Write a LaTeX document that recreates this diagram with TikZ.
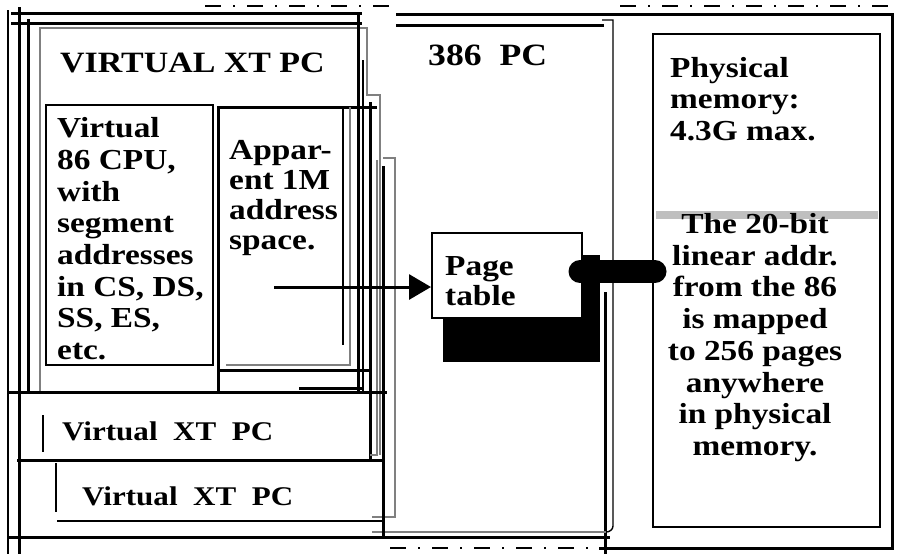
\documentclass[tikz,border=0pt]{standalone}
\usepackage{fontspec}
\setmainfont{Liberation Serif}[FakeStretch=1.15]
\usetikzlibrary{arrows.meta}
\begin{document}
\begin{tikzpicture}[x=1pt,y=-1pt,
  thk/.style={line width=3pt,line cap=rect},
  mid/.style={line width=2.2pt},
  thn/.style={line width=1.4pt},
  gry/.style={line width=2pt,draw=black!50},
  txt/.style={font=\bfseries\fontsize{29}{32}\selectfont,anchor=base west,inner sep=0pt},
  ctxt/.style={font=\bfseries\fontsize{29}{32}\selectfont,anchor=base,inner sep=0pt},
  boxn/.style={draw,inner sep=0pt},
  dashtop/.style={line width=2pt,dash pattern=on 16pt off 12pt on 2pt off 12pt}]
\useasboundingbox (0,0) rectangle (897,554);
\fill[white] (0,0) rectangle (897,554);

% ---- top and bottom dashed rules
\draw[dashtop] (205,6) -- (400,6);
\draw[dashtop] (620,6) -- (897,6);
\draw[dashtop] (390,548) -- (600,548);
\draw[thk] (600,548) -- (892,548);

% ---- outer frame lines
\draw[thk] (12,13) -- (360,13);
\draw[thk] (397,14) -- (892,14) -- (892,548);
\draw[thk] (12,23) -- (360,23);
\draw[thk] (397,25) -- (602,25);
\draw[thn] (8,10) -- (8,554);
\draw[thk] (19,8) -- (19,554);
\draw[thk] (28,20) -- (28,392);
\draw[thk] (8,537) -- (608,537);
\draw[thk] (605,293) -- (605,554);
\draw[thn] (602,20) -- (613,20) -- (613,526) to[out=-90,in=0] (606,532);
\draw[gry] (372,532) -- (606,532);

% ---- stacked virtual PC cards (right steps)
\draw[gry] (40,392) -- (40,28) -- (367,28) -- (367,95) -- (380,95) -- (380,455);
\draw[thk] (358,13) -- (358,390);
\draw[thn] (363,60) -- (363,392);
\draw[thk] (370,103) -- (370,460);
\draw[gry] (377,160) -- (377,455) -- (370,455);
\draw[gry] (383,158) -- (395,158) -- (395,517) -- (372,517);
\draw[thk] (383,167) -- (383,537);

% ---- horizontal strips
\draw[thk] (8,392) -- (385,392);
\draw[thk] (18,460) -- (383,460);
\draw[mid] (57,521) -- (383,521);
\draw[thk] (218,370) -- (368,370);
\draw[thk] (300,388) -- (360,388);
\draw[mid] (43,415) -- (43,452);
\draw[mid] (56,463) -- (56,512);

% ---- inner boxes
\node[boxn,line width=2pt,minimum width=167pt,minimum height=260pt] (cpu) at (129.5,235) {};
\draw[thk] (218,107) -- (375,107);
\draw[thk] (218,107) -- (218,392);
\draw[gry] (226,365) -- (350,365) -- (350,107);
\draw[mid] (343,107) -- (343,345);
\node[inner sep=0pt,minimum width=132pt,minimum height=258pt] (app) at (284,236) {};

% ---- texts of the card
\node[font=\bfseries\fontsize{29.5}{32}\selectfont,anchor=base west,inner sep=0pt] (vt) at (60,72) {VIRTUAL XT PC};
\node[txt] (c1) at (57,137) {Virtual};
\node[txt] (c2) at (57,169) {86 CPU,};
\node[txt] (c3) at (57,201) {with};
\node[txt] (c4) at (57,232) {segment};
\node[txt] (c5) at (57,264) {addresses};
\node[txt] (c6) at (57,296) {in CS, DS,};
\node[txt] (c7) at (57,327) {SS, ES,};
\node[txt] (c8) at (57,359) {etc.};
\node[txt] (a1) at (229,159) {Appar-};
\node[txt] (a2) at (229,189) {ent 1M};
\node[txt] (a3) at (229,219) {address};
\node[txt] (a4) at (229,249) {space.};
\node[txt,font=\bfseries\fontsize{27}{30}\selectfont] (v2) at (62,440) {Virtual\ \ XT\ \ PC};
\node[txt,font=\bfseries\fontsize{27}{30}\selectfont] (v3) at (82,505) {Virtual\ \ XT\ \ PC};
\node[txt,font=\bfseries\fontsize{31}{34}\selectfont] (pc) at (428,65) {386\ \ PC};

% ---- page table
\fill (443,255) rectangle (600,362);
\node[boxn,fill=white,line width=2pt,minimum width=150pt,minimum height=85pt] (pt) at (507,275.5) {};
\node[txt] (p1) at (445,275) {Page};
\node[txt] (p2) at (445,305) {table};

% ---- physical memory
\node[boxn,line width=2pt,minimum width=227pt,minimum height=493pt] (phys) at (766.5,280.5) {};
\fill[black!25] (656,211) rectangle (878,219);
\node[txt] (m1) at (670,77) {Physical};
\node[txt] (m2) at (670,108) {memory:};
\node[txt] (m3) at (670,140) {4.3G max.};
\node[ctxt] (l1) at (755,233) {The 20-bit};
\node[ctxt] (l2) at (755,265) {linear addr.};
\node[ctxt] (l3) at (755,296) {from the 86};
\node[ctxt] (l4) at (755,328) {is mapped};
\node[ctxt] (l5) at (755,360) {to 256 pages};
\node[ctxt] (l6) at (755,392) {anywhere};
\node[ctxt] (l7) at (755,423) {in physical};
\node[ctxt] (l8) at (755,455) {memory.};

% ---- connectors
\coordinate (a0) at (275,287);
\draw[thk,-{Triangle[length=22pt,width=25pt]}] (a0) -- (a0 -| pt.west);
\coordinate (b0) at (580,271.5);
\draw[line width=23pt,line cap=round] (b0) -- ([xshift=3pt]b0 -| phys.west);
\end{tikzpicture}
\end{document}
